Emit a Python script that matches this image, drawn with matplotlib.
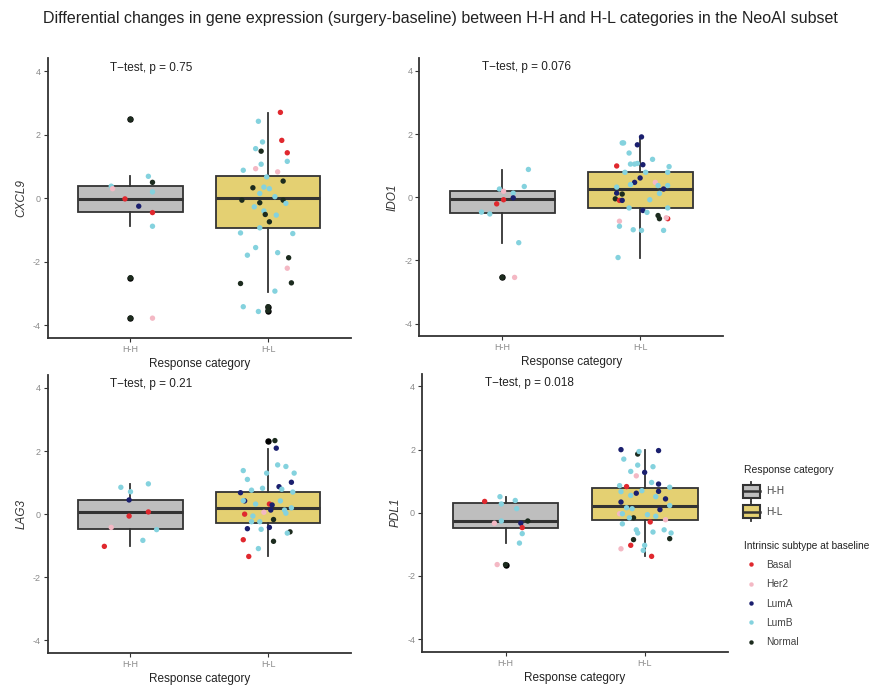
import matplotlib
matplotlib.use("Agg")
import matplotlib.pyplot as plt
from matplotlib.patches import Rectangle
from matplotlib.lines import Line2D
from matplotlib.legend_handler import HandlerBase

plt.rcParams["font.family"] = ["Liberation Sans", "DejaVu Sans"]
plt.rcParams["axes.unicode_minus"] = False

groups = ["H-H", "H-L"]
group_colors = ["#bebebe", "#e4d072"]
subtypes = ["Basal", "Her2", "LumA", "LumB", "Normal"]
subtype_colors = ["#e0282e", "#f4b8c4", "#1a1f6e", "#84d2de", "#1c2b1e"]
genes = ["CXCL9", "IDO1", "LAG3", "PDL1"]
pvalues = ["0.75", "0.076", "0.21", "0.018"]

# box summaries per gene: (q1, median, q3, lower whisker, upper whisker, outliers)
cxcl9_box = [(-0.43, -0.01, 0.38, -0.88, 0.69, [2.48, -2.50, -3.75]),
             (-0.92, 0.01, 0.69, -2.94, 2.67, [-3.41, -3.53])]
ido1_box = [(-0.49, -0.06, 0.19, -1.45, 0.87, [-2.54]),
            (-0.34, 0.27, 0.81, -1.91, 1.91, [])]
lag3_box = [(-0.48, 0.06, 0.45, -1.02, 0.95, []),
            (-0.28, 0.18, 0.71, -1.34, 2.06, [2.33])]
pdl1_box = [(-0.47, -0.26, 0.30, -0.96, 0.51, [-1.64]),
            (-0.22, 0.21, 0.79, -1.38, 1.99, [])]

# individual patients: value, horizontal jitter, subtype
cxcl9_hh_val = [2.48, 0.69, 0.50, 0.38, 0.30, 0.20, -0.02, -0.25, -0.45, -0.88, -2.50, -3.77, -3.77]
cxcl9_hh_dx = [0.00, 0.13, 0.16, -0.14, -0.13, 0.16, -0.04, 0.06, 0.16, 0.16, 0.00, 0.00, 0.16]
cxcl9_hh_sub = ["Normal", "LumB", "Normal", "LumB", "Her2", "LumB", "Basal", "LumA", "Basal", "LumB",
                "Normal", "Normal", "Her2"]

cxcl9_hl_val = [2.70, 2.42, 1.82, 1.77, 1.56, 1.48, 1.43, 1.16, 1.07, 0.93, 0.88, 0.83, 0.67, 0.54,
                0.33, 0.35, 0.30, 0.15, 0.05, -0.06, -0.14, -0.06, -0.16, -0.27, -0.40, -0.51, -0.74,
                -0.53, -0.93, -1.09, -1.11, -1.55, -1.79, -1.71, -1.87, -2.20, -2.68, -2.66, -2.92,
                -3.41, -3.56, -3.41, -3.53]
cxcl9_hl_dx = [0.09, -0.07, 0.10, -0.04, -0.09, -0.05, 0.14, 0.14, -0.05, -0.09, -0.18, 0.07, -0.01, 0.11,
               -0.11, -0.03, 0.01, -0.06, 0.05, -0.19, -0.06, 0.11, 0.13, -0.10, -0.03, -0.02, 0.01,
               0.06, -0.06, -0.20, 0.18, -0.09, -0.15, 0.07, 0.15, 0.14, -0.20, 0.17, 0.05,
               -0.18, -0.07, 0.00, 0.00]
cxcl9_hl_sub = ["Basal", "LumB", "Basal", "LumB", "LumB", "Normal", "Basal", "LumB", "LumB", "Her2",
                "LumB", "Her2", "LumB", "Normal", "Normal", "LumB", "LumB", "LumB", "LumB", "Normal",
                "Normal", "Normal", "LumB", "LumB", "LumB", "Normal", "Normal", "LumB", "LumB", "LumB",
                "LumB", "LumB", "LumB", "LumB", "Normal", "Her2", "Normal", "Normal", "LumB", "LumB",
                "LumB", "Normal", "Normal"]

ido1_hh_val = [0.88, 0.34, 0.26, 0.19, 0.13, -0.02, -0.08, -0.21, -0.47, -0.53, -1.44, -2.54, -2.54]
ido1_hh_dx = [0.19, 0.16, -0.02, 0.01, 0.08, 0.08, 0.01, -0.04, -0.15, -0.09, 0.12, 0.00, 0.09]
ido1_hh_sub = ["LumB", "LumB", "LumB", "Her2", "LumB", "LumA", "Basal", "Basal", "LumB", "LumB", "LumB",
               "Normal", "Her2"]

ido1_hl_val = [1.91, 1.66, 1.72, 1.72, 1.40, 1.20, 0.99, 1.03, 1.05, 1.05, 1.07, 0.97, 0.79, 0.79, 0.79,
               0.61, 0.47, 0.47, 0.40, 0.37, 0.37, 0.26, 0.32, 0.13, 0.10, -0.05, -0.10, -0.10, -0.08,
               0.12, -0.34, -0.34, -0.42, -0.48, -0.58, -0.68, -0.68, -0.65, -0.76, -0.92, -1.03, -1.05,
               -1.05, -1.91]
ido1_hl_dx = [0.01, -0.02, -0.13, -0.12, -0.08, 0.09, -0.17, 0.02, -0.07, -0.04, -0.02, 0.21, 0.20, -0.11,
              0.04, 0.00, -0.04, 0.11, -0.07, 0.13, 0.20, 0.17, -0.17, -0.17, -0.13, -0.18, -0.15, -0.13,
              0.07, 0.14, -0.08, 0.20, 0.02, 0.05, 0.13, 0.14, 0.20, 0.19, -0.15, -0.15, -0.05, 0.01,
              0.17, -0.16]
ido1_hl_sub = ["LumA", "LumA", "LumB", "LumB", "LumB", "LumB", "Basal", "LumA", "LumB", "LumB", "LumB",
               "LumB", "LumB", "LumB", "LumB", "LumA", "LumA", "Her2", "LumB", "LumB", "LumB", "LumA",
               "LumB", "LumA", "Normal", "Normal", "Basal", "LumA", "LumB", "LumB", "LumB", "LumB",
               "LumA", "LumB", "Normal", "Normal", "Basal", "Her2", "Her2", "LumB", "LumB", "LumB",
               "LumB", "LumB"]

lag3_hh_val = [0.85, 0.96, 0.71, 0.45, -0.06, 0.07, -0.42, -0.49, -0.83, -1.02]
lag3_hh_dx = [-0.07, 0.13, 0.00, -0.01, -0.01, 0.13, -0.14, 0.19, 0.09, -0.19]
lag3_hh_sub = ["LumB", "LumB", "LumB", "LumA", "Basal", "Basal", "Her2", "LumB", "LumB", "Basal"]

lag3_hl_val = [2.33, 2.09, 1.38, 1.56, 1.51, 1.30, 1.30, 1.10, 1.01, 0.87, 0.79, 0.76, 0.82, 0.68, 0.70,
               0.42, 0.43, 0.32, 0.32, 0.42, 0.13, 0.13, 0.29, 0.20, 0.06, 0.00, -0.06, 0.03, -0.24,
               -0.17, -0.24, -0.46, -0.48, -0.42, -0.56, -0.60, -0.81, -0.86, -1.09, -1.34]
lag3_hl_dx = [0.05, 0.06, -0.18, 0.07, 0.13, -0.01, 0.19, -0.15, 0.17, 0.08, 0.10, -0.12, -0.04, -0.20,
              0.18, -0.17, -0.18, -0.09, 0.01, 0.09, 0.12, 0.02, 0.03, 0.17, -0.03, -0.17, -0.11, 0.13,
              -0.12, 0.04, -0.06, -0.15, -0.05, 0.01, 0.16, 0.14, -0.18, 0.04, -0.07, -0.14]
lag3_hl_sub = ["Normal", "LumA", "LumB", "LumB", "LumB", "LumB", "LumB", "LumB", "LumA", "LumA", "LumB",
               "LumB", "LumB", "LumA", "LumB", "LumA", "LumB", "LumB", "Basal", "LumB", "LumB", "LumA",
               "LumA", "LumB", "Her2", "Basal", "LumB", "LumB", "LumB", "Normal", "LumB", "LumA",
               "LumB", "LumA", "Normal", "LumB", "Basal", "Normal", "LumB", "Basal"]

pdl1_hh_val = [0.36, 0.51, 0.39, 0.28, 0.13, -0.33, -0.26, -0.33, -0.26, -0.47, -0.66, -0.96, -1.64, -1.64]
pdl1_hh_dx = [-0.15, -0.04, 0.07, -0.03, 0.08, -0.08, -0.03, 0.11, 0.16, 0.12, 0.12, 0.10, 0.00, -0.06]
pdl1_hh_sub = ["Basal", "LumB", "LumB", "LumB", "LumB", "Her2", "LumB", "LumA", "Normal", "Basal", "LumB",
               "LumB", "Normal", "Her2"]

pdl1_hl_val = [2.00, 1.97, 1.86, 1.94, 1.70, 1.51, 1.46, 1.31, 1.28, 1.17, 0.96, 0.91, 0.81, 0.86, 0.83,
               0.68, 0.67, 0.62, 0.55, 0.70, 0.51, 0.44, 0.34, 0.23, 0.16, 0.13, 0.10, -0.03, -0.03,
               -0.16, -0.16, -0.06, -0.11, -0.22, -0.29, -0.35, -0.54, -0.64, -0.61, -0.54, -0.64,
               -0.85, -0.82, -1.03, -1.14, -1.03, -1.19, -1.38]
pdl1_hl_dx = [-0.17, 0.10, -0.05, -0.04, -0.15, -0.05, 0.06, -0.10, 0.00, -0.06, 0.05, 0.10, 0.18, -0.18,
              -0.13, 0.10, -0.17, -0.06, -0.10, -0.02, 0.08, 0.15, -0.17, 0.18, -0.13, -0.09, 0.11,
              -0.18, -0.16, -0.08, -0.11, 0.02, 0.08, 0.15, 0.04, -0.16, -0.06, -0.05, 0.06, 0.14, 0.19,
              -0.08, 0.18, -0.10, -0.17, 0.00, -0.01, 0.05]
pdl1_hl_sub = ["LumA", "LumA", "Normal", "LumB", "LumB", "LumB", "LumB", "LumB", "LumA", "Her2", "LumB",
               "LumA", "LumB", "LumB", "Basal", "LumA", "LumB", "LumA", "LumB", "LumB", "LumB", "LumA",
               "LumA", "LumB", "LumB", "LumB", "LumA", "Her2", "LumB", "Normal", "LumB", "LumB", "LumB",
               "Her2", "Basal", "LumB", "LumB", "LumB", "LumB", "LumB", "LumB", "Normal", "Normal",
               "Basal", "Her2", "LumB", "LumB", "Basal"]

panels = [
    (cxcl9_box, [(cxcl9_hh_val, cxcl9_hh_dx, cxcl9_hh_sub), (cxcl9_hl_val, cxcl9_hl_dx, cxcl9_hl_sub)]),
    (ido1_box, [(ido1_hh_val, ido1_hh_dx, ido1_hh_sub), (ido1_hl_val, ido1_hl_dx, ido1_hl_sub)]),
    (lag3_box, [(lag3_hh_val, lag3_hh_dx, lag3_hh_sub), (lag3_hl_val, lag3_hl_dx, lag3_hl_sub)]),
    (pdl1_box, [(pdl1_hh_val, pdl1_hh_dx, pdl1_hh_sub), (pdl1_hl_val, pdl1_hl_dx, pdl1_hl_sub)]),
]

# axes rectangles in figure fraction
rects = [(0.055, 0.507, 0.347, 0.408),
         (0.481, 0.510, 0.348, 0.405),
         (0.055, 0.048, 0.347, 0.405),
         (0.484, 0.050, 0.351, 0.405)]

ink = "#333333"
sub_col = dict(zip(subtypes, subtype_colors))

fig = plt.figure(figsize=(8.72, 6.86), dpi=100)
fig.text(0.505, 0.973, "Differential changes in gene expression (surgery-baseline) between H-H and "
         "H-L categories in the NeoAI subset", ha="center", va="center", fontsize=11.5, color="#222222")

for gene, pval, (boxes, pts), rect in zip(genes, pvalues, panels, rects):
    ax = fig.add_axes(rect)
    stats = []
    for q1, med, q3, lo, hi, fl in boxes:
        stats.append(dict(q1=q1, med=med, q3=q3, whislo=lo, whishi=hi, fliers=fl))
    bp = ax.bxp(stats, positions=[1, 2], widths=0.76, patch_artist=True, showcaps=False,
                boxprops=dict(edgecolor=ink, linewidth=1.3),
                whiskerprops=dict(color=ink, linewidth=1.3),
                medianprops=dict(color=ink, linewidth=2.2),
                flierprops=dict(marker="o", markerfacecolor="black", markeredgecolor="black",
                                markersize=3.6))
    for patch, c in zip(bp["boxes"], group_colors):
        patch.set_facecolor(c)
    for i, (vals, dxs, subs) in enumerate(pts):
        xs = [i + 1 + d for d in dxs]
        cs = [sub_col[s] for s in subs]
        ax.scatter(xs, vals, s=15, c=cs, linewidths=0, zorder=3)

    ax.set_xlim(0.4, 2.6)
    ax.set_ylim(-4.4, 4.4)
    ax.set_xticks([1, 2])
    ax.set_xticklabels(groups)
    ax.set_yticks([-4, -2, 0, 2, 4])
    for side in ["top", "right"]:
        ax.spines[side].set_visible(False)
    for side in ["left", "bottom"]:
        ax.spines[side].set_color(ink)
        ax.spines[side].set_linewidth(1.3)
    ax.tick_params(length=3, width=0.8, color=ink, labelcolor="#8a8a8a", labelsize=6.5, pad=2)
    ax.set_xlabel("Response category", fontsize=8.5, color="#222222", labelpad=3)
    ax.set_ylabel(gene, fontsize=8.5, style="italic", color="#333333", labelpad=4)
    ax.text(0.205, 0.967, "T\u2212test, p = " + pval, transform=ax.transAxes, fontsize=8.5,
            color="#222222", va="center", ha="left")


class BoxKey(HandlerBase):
    def create_artists(self, legend, orig_handle, xdescent, ydescent, width, height, fontsize, trans):
        cx = width / 2 - xdescent
        bw, bh = 12, 9
        y0 = -ydescent + (height - bh) / 2
        box = Rectangle((cx - bw / 2, y0), bw, bh, facecolor=orig_handle.get_facecolor(),
                        edgecolor=ink, linewidth=1.5, transform=trans)
        med = Line2D([cx - bw / 2, cx + bw / 2], [y0 + bh / 2] * 2, color=ink, linewidth=1.8,
                     transform=trans)
        top = Line2D([cx, cx], [y0 + bh, y0 + bh + 2.5], color=ink, linewidth=1.3, transform=trans)
        bot = Line2D([cx, cx], [y0 - 2.5, y0], color=ink, linewidth=1.3, transform=trans)
        return [box, med, top, bot]


box_handles = [Rectangle((0, 0), 1, 1, facecolor=c) for c in group_colors]
leg1 = fig.legend(box_handles, groups, handler_map={Rectangle: BoxKey()}, title="Response category",
                  loc="upper left", bbox_to_anchor=(0.853, 0.322), frameon=False, fontsize=7.3,
                  title_fontsize=7.5, handlelength=1.5, handleheight=2.0, labelspacing=0.45,
                  borderpad=0, borderaxespad=0, handletextpad=0.7,
                  alignment="left", labelcolor="#444444")
leg1._legend_box.sep = 6
leg1.get_title().set_color("#222222")

dot_handles = [Line2D([], [], marker="o", linestyle="", markersize=3.2, markerfacecolor=c,
                      markeredgewidth=0) for c in subtype_colors]
leg2 = fig.legend(dot_handles, subtypes, title="Intrinsic subtype at baseline", loc="upper left",
                  bbox_to_anchor=(0.853, 0.212), frameon=False, fontsize=7.3, title_fontsize=7.3,
                  handlelength=1.5, labelspacing=0.92, borderpad=0, borderaxespad=0,
                  handletextpad=0.7, alignment="left", labelcolor="#444444")
leg2.get_title().set_color("#222222")

fig.savefig("out.png", dpi=100)
